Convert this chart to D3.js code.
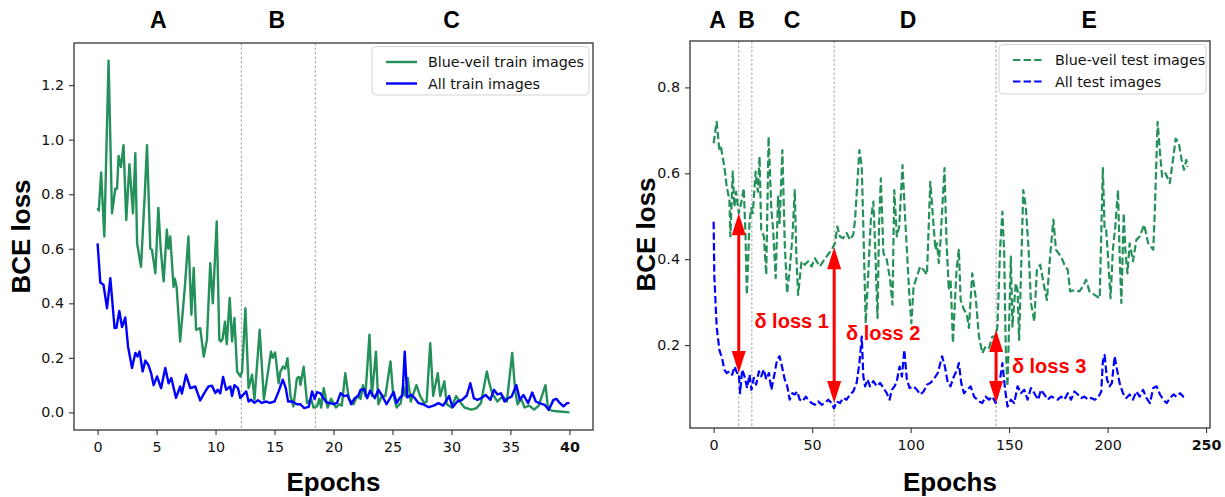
<!DOCTYPE html>
<html>
<head>
<meta charset="utf-8">
<script src="https://cdnjs.cloudflare.com/ajax/libs/d3/7.8.5/d3.min.js"></script>
<style>
body { margin: 0; background: #fff; }
text { font-family: "DejaVu Sans", sans-serif; }
</style>
</head>
<body>
<svg id="chart"></svg>
<script>
const width = 1225;
const height = 497;

// train curves: [epoch, BCE loss]
const trainBlueVeil = [[0,0.75],[0.1,0.74],[0.3,0.88],[0.57,0.645],[0.93,1.29],[1.22,0.73],[1.5,0.82],[1.65,0.82],[1.78,0.94],[1.98,0.9],[2.2,0.98],[2.43,0.705],[2.7,0.91],[3.0,0.73],[3.2,0.95],[3.35,0.62],[3.68,0.534],[4.0,0.8],[4.19,0.98],[4.47,0.6],[4.61,0.596],[4.9,0.51],[5.15,0.75],[5.35,0.6],[5.6,0.48],[5.87,0.67],[6.0,0.6],[6.16,0.645],[6.44,0.46],[6.55,0.49],[6.7,0.46],[7.0,0.26],[7.4,0.46],[7.7,0.645],[7.95,0.358],[8.15,0.53],[8.35,0.303],[8.7,0.309],[9.0,0.205],[9.27,0.266],[9.55,0.547],[9.77,0.4],[10.1,0.7],[10.32,0.266],[10.45,0.26],[10.6,0.27],[10.8,0.333],[10.95,0.25],[11.2,0.42],[11.4,0.26],[11.6,0.346],[11.83,0.15],[12.1,0.132],[12.25,0.15],[12.53,0.382],[12.8,0.089],[13.1,0.138],[13.3,0.047],[13.74,0.303],[14.1,0.047],[14.35,0.12],[14.7,0.223],[14.85,0.2],[15.05,0.22],[15.35,0.107],[15.5,0.15],[15.72,0.168],[15.9,0.16],[16.1,0.199],[16.35,0.06],[16.6,0.022],[16.9,0.126],[17.1,0.13],[17.2,0.1],[17.47,0.168],[17.76,0.034],[18.1,0.05],[18.3,0.018],[18.6,0.022],[18.8,0.05],[18.95,0.018],[19.17,0.089],[19.5,0.018],[19.8,0.05],[20.2,0.018],[20.5,0.03],[20.7,0.025],[21.0,0.144],[21.3,0.05],[21.7,0.03],[22.0,0.06],[22.3,0.05],[22.5,0.1],[22.7,0.06],[23.05,0.285],[23.25,0.06],[23.6,0.223],[23.8,0.03],[24.1,0.06],[24.4,0.06],[24.83,0.187],[25.05,0.07],[25.35,0.018],[25.7,0.034],[25.9,0.1],[26.1,0.06],[26.3,0.126],[26.55,0.04],[27.03,0.1],[27.35,0.06],[27.7,0.034],[27.9,0.04],[28.2,0.254],[28.45,0.06],[28.84,0.144],[29.05,0.06],[29.4,0.114],[29.6,0.03],[30.0,0.018],[30.4,0.06],[30.7,0.04],[31.1,0.018],[31.7,0.01],[32.1,0.015],[32.5,0.034],[33.0,0.15],[33.2,0.11],[33.45,0.07],[33.9,0.04],[34.35,0.06],[34.7,0.04],[35.15,0.218],[35.4,0.08],[35.6,0.03],[35.9,0.05],[36.2,0.018],[36.6,0.025],[37.0,0.01],[37.4,0.025],[37.97,0.1],[38.2,0.01],[38.7,0.005],[40,0.0]];

const trainAll = [[0,0.62],[0.23,0.476],[0.5,0.468],[0.8,0.382],[1.08,0.492],[1.44,0.309],[1.6,0.31],[1.84,0.372],[2.07,0.313],[2.35,0.348],[2.58,0.242],[2.92,0.163],[3.2,0.218],[3.38,0.205],[3.56,0.223],[3.82,0.15],[4.05,0.19],[4.3,0.175],[4.55,0.142],[4.75,0.1],[5.04,0.132],[5.38,0.089],[5.74,0.163],[6.02,0.107],[6.25,0.126],[6.65,0.053],[7.0,0.095],[7.15,0.069],[7.5,0.138],[7.86,0.089],[8.28,0.095],[8.7,0.044],[9.13,0.077],[9.4,0.095],[9.7,0.098],[9.98,0.071],[10.18,0.083],[10.4,0.07],[10.64,0.13],[10.9,0.083],[11.25,0.095],[11.4,0.06],[11.6,0.1],[11.9,0.089],[12.1,0.053],[12.6,0.077],[12.8,0.04],[13.0,0.047],[13.3,0.035],[13.6,0.045],[13.9,0.035],[14.3,0.04],[14.6,0.035],[15.0,0.04],[15.35,0.077],[15.7,0.12],[15.95,0.09],[16.15,0.04],[16.5,0.04],[16.9,0.03],[17.2,0.03],[17.5,0.016],[17.9,0.02],[18.18,0.077],[18.4,0.05],[18.6,0.074],[18.9,0.07],[19.1,0.055],[19.4,0.037],[19.73,0.034],[20.0,0.03],[20.3,0.035],[20.6,0.071],[20.9,0.06],[21.2,0.063],[21.5,0.03],[21.8,0.052],[22.1,0.06],[22.3,0.083],[22.6,0.085],[22.85,0.052],[23.1,0.08],[23.5,0.052],[23.8,0.083],[24.1,0.063],[24.5,0.03],[25.1,0.075],[25.35,0.034],[25.6,0.052],[25.85,0.062],[26.04,0.223],[26.25,0.055],[26.6,0.065],[26.9,0.052],[27.2,0.034],[27.6,0.03],[28.07,0.019],[28.5,0.025],[28.9,0.034],[29.3,0.025],[29.8,0.06],[30.1,0.019],[30.5,0.04],[30.9,0.046],[31.3,0.062],[31.6,0.107],[31.9,0.052],[32.2,0.046],[32.5,0.052],[32.9,0.064],[33.3,0.046],[33.6,0.083],[33.9,0.066],[34.2,0.07],[34.5,0.04],[34.8,0.052],[35.1,0.058],[35.5,0.1],[35.8,0.046],[36.1,0.064],[36.5,0.034],[36.85,0.073],[37.15,0.04],[37.45,0.034],[37.9,0.028],[38.25,0.01],[38.65,0.046],[38.9,0.05],[39.2,0.034],[39.5,0.022],[39.8,0.034],[40,0.034]];

// test curves: [epoch, BCE loss]
const testBlueVeil = [[0,0.67],[1.54,0.72],[2.9,0.654],[3.75,0.66],[5.45,0.615],[6.65,0.569],[8.0,0.538],[8.5,0.453],[9.7,0.604],[10.56,0.522],[11.4,0.557],[12.77,0.507],[13.96,0.53],[15.3,0.565],[16.2,0.453],[16.85,0.317],[18.2,0.484],[19.06,0.519],[19.9,0.507],[21.3,0.604],[22.46,0.557],[23.3,0.639],[24.16,0.468],[25.5,0.453],[26.7,0.364],[27.9,0.685],[29.3,0.515],[30.1,0.476],[31.5,0.356],[32.7,0.546],[33.5,0.484],[34.9,0.654],[36.1,0.437],[37.3,0.321],[38.6,0.375],[40.0,0.453],[41.2,0.561],[42.0,0.406],[42.9,0.317],[44.6,0.395],[46.3,0.387],[48.0,0.395],[49.7,0.383],[51.4,0.402],[53.9,0.383],[55.6,0.395],[57.3,0.406],[59.9,0.422],[61.6,0.437],[62.8,0.476],[64.1,0.453],[65.8,0.449],[67.5,0.461],[69.2,0.445],[70.9,0.457],[71.8,0.492],[74.0,0.654],[75.2,0.615],[76.0,0.476],[77.2,0.251],[78.6,0.375],[79.8,0.492],[81.1,0.534],[82.0,0.43],[83.2,0.263],[84.0,0.484],[84.9,0.588],[86.2,0.414],[87.9,0.399],[89.6,0.352],[90.8,0.294],[91.7,0.561],[93.0,0.453],[94.2,0.476],[95.9,0.619],[97.0,0.515],[98.1,0.422],[99.5,0.305],[100.4,0.251],[101.5,0.336],[103.2,0.36],[104.9,0.383],[106.6,0.375],[108.3,0.364],[110.0,0.58],[111.7,0.476],[112.6,0.422],[113.45,0.437],[114.3,0.391],[115.15,0.441],[117.2,0.612],[118.2,0.445],[119.4,0.328],[120.3,0.352],[121.5,0.205],[123.3,0.375],[124.5,0.422],[125.4,0.305],[127.1,0.282],[128.4,0.274],[129.6,0.24],[131.3,0.367],[133.0,0.313],[134.7,0.22],[136.4,0.181],[138.1,0.197],[139.8,0.193],[141.5,0.22],[143.2,0.22],[144.1,0.243],[145.4,0.422],[146.6,0.511],[147.5,0.414],[148.3,0.193],[149.2,0.104],[150.9,0.406],[151.7,0.243],[152.6,0.298],[153.4,0.344],[154.3,0.328],[155.1,0.212],[156.0,0.36],[157.2,0.561],[158.5,0.522],[159.9,0.422],[161.1,0.298],[162.8,0.255],[164.1,0.375],[165.8,0.387],[167.5,0.344],[169.2,0.305],[170.8,0.406],[172.5,0.492],[173.8,0.422],[176.4,0.406],[178.1,0.387],[179.8,0.375],[181.0,0.325],[183.2,0.328],[185.7,0.325],[187.4,0.336],[189.1,0.352],[190.8,0.325],[193.4,0.317],[196.0,0.309],[197.6,0.612],[198.5,0.468],[199.3,0.468],[200.2,0.406],[201.5,0.309],[202.7,0.422],[203.9,0.476],[205.3,0.561],[206.1,0.414],[207.0,0.298],[208.2,0.507],[209.0,0.422],[210.1,0.367],[211.2,0.437],[212.9,0.395],[214.6,0.445],[216.3,0.453],[218.6,0.48],[220.6,0.437],[223.2,0.422],[224.0,0.515],[225.4,0.72],[226.5,0.654],[227.7,0.592],[229.4,0.6],[231.6,0.577],[233.4,0.639],[234.6,0.681],[236.2,0.67],[237.6,0.631],[238.8,0.608],[240.0,0.631],[240.6,0.615]];

const testAll = [[0,0.487],[0.35,0.36],[1.54,0.243],[2.9,0.189],[4.26,0.17],[5.45,0.143],[6.65,0.135],[8.0,0.139],[9.4,0.131],[10.56,0.15],[11.9,0.135],[12.77,0.135],[13.45,0.088],[14.5,0.143],[15.7,0.127],[17.0,0.1],[18.2,0.131],[19.2,0.096],[20.4,0.124],[21.6,0.108],[23.0,0.139],[24.16,0.127],[25.5,0.143],[26.7,0.12],[28.1,0.135],[29.3,0.096],[31.0,0.135],[32.2,0.166],[33.5,0.174],[34.7,0.15],[36.1,0.12],[37.4,0.104],[38.6,0.073],[40.0,0.088],[41.2,0.085],[42.4,0.092],[43.7,0.073],[45.1,0.069],[46.8,0.08],[48.0,0.073],[49.7,0.065],[51.4,0.061],[53.1,0.069],[54.8,0.061],[56.5,0.065],[58.2,0.073],[59.9,0.065],[61.1,0.053],[62.4,0.069],[64.1,0.065],[65.8,0.077],[67.5,0.073],[69.2,0.085],[70.9,0.092],[72.6,0.112],[74.0,0.158],[75.2,0.22],[76.0,0.127],[76.9,0.104],[78.1,0.12],[79.4,0.104],[81.1,0.116],[82.8,0.104],[84.5,0.112],[86.2,0.1],[87.9,0.088],[89.3,0.073],[90.5,0.096],[91.85,0.104],[93.0,0.116],[94.4,0.15],[95.6,0.127],[96.8,0.189],[98.1,0.12],[99.5,0.1],[101.5,0.104],[103.2,0.096],[104.9,0.085],[106.6,0.092],[108.3,0.108],[110.0,0.112],[111.7,0.12],[113.8,0.135],[116.0,0.174],[117.4,0.15],[118.9,0.112],[120.25,0.104],[121.95,0.127],[123.65,0.143],[124.5,0.158],[125.7,0.112],[127.1,0.088],[128.8,0.096],[130.5,0.104],[132.2,0.08],[134.7,0.069],[136.4,0.065],[138.1,0.08],[139.8,0.073],[141.5,0.08],[143.2,0.065],[144.9,0.104],[146.6,0.158],[148.0,0.096],[149.2,0.057],[150.9,0.073],[152.6,0.065],[154.3,0.104],[156.0,0.088],[157.7,0.096],[159.4,0.073],[161.1,0.1],[162.8,0.088],[164.8,0.073],[166.2,0.096],[167.9,0.085],[169.6,0.073],[171.3,0.08],[173.0,0.077],[174.7,0.073],[176.4,0.08],[178.1,0.073],[179.8,0.088],[181.5,0.073],[183.2,0.092],[184.9,0.085],[186.6,0.077],[188.3,0.08],[190.0,0.073],[191.7,0.077],[193.4,0.073],[195.1,0.077],[196.8,0.092],[197.6,0.162],[198.5,0.177],[199.7,0.12],[201.0,0.104],[202.2,0.112],[203.6,0.174],[204.8,0.143],[206.1,0.112],[207.8,0.088],[209.5,0.077],[211.2,0.085],[212.9,0.073],[214.6,0.092],[216.3,0.08],[218.0,0.096],[219.7,0.077],[221.5,0.065],[223.2,0.1],[224.9,0.104],[226.6,0.085],[228.3,0.073],[230.0,0.065],[231.7,0.077],[233.4,0.085],[235.1,0.08],[236.8,0.088],[238.5,0.08],[240.2,0.08]];

// training phases
const trainPhaseBounds = [12.19, 18.46];
const trainPhaseNames = ['A', 'B', 'C'];
const trainPhaseAt = [5.15, 15.2, 30.0];
const testPhaseBounds = [12.75, 19.4, 61.2, 143.4];
const testPhaseNames = ['A', 'B', 'C', 'D', 'E'];
const testPhaseAt = [2.0, 16.7, 39.8, 98.7, 190.7];

// delta loss arrows on the test panel
const deltaEpochs = [12.75, 61.2, 143.4];
const deltaLow = [0.135, 0.065, 0.065];
const deltaHigh = [0.507, 0.428, 0.235];
const deltaNames = ['δ loss 1', 'δ loss 2', 'δ loss 3'];
const deltaNameAt = [[39.6, 0.24], [86.1, 0.212], [170.3, 0.135]];

const trainXTicks = [0, 5, 10, 15, 20, 25, 30, 35, 40];
const trainYTicks = [0, 0.2, 0.4, 0.6, 0.8, 1.0, 1.2];
const testXTicks = [0, 50, 100, 150, 200, 250];
const testYTicks = [0.2, 0.4, 0.6, 0.8];

const GREEN = '#24905a';
const BLUE = '#0000ff';
const RED = '#ff0000';

const svg = d3.select('#chart').attr('width', width).attr('height', height);

function drawPanel(p) {
  const x = d3.scaleLinear().domain(p.xDomain).range([p.left, p.right]);
  const y = d3.scaleLinear().domain(p.yDomain).range([p.bottom, p.top]);
  const g = svg.append('g');

  // phase separators
  g.selectAll('.phase').data(p.bounds).enter().append('line')
    .attr('x1', d => x(d)).attr('x2', d => x(d))
    .attr('y1', p.top).attr('y2', p.bottom)
    .attr('stroke', '#8c8c8c').attr('stroke-width', 0.8)
    .attr('stroke-dasharray', '2.5,2');

  //lines
  const line = d3.line().x(d => x(d[0])).y(d => y(d[1]));
  p.series.forEach(s => {
    g.append('path').datum(s.data)
      .attr('d', line).attr('fill', 'none')
      .attr('stroke', s.color).attr('stroke-width', p.lineWidth)
      .attr('stroke-linejoin', 'round')
      .attr('stroke-dasharray', p.dash || null);
  });

  // axes
  const xAxis = d3.axisBottom(x).tickValues(p.xTicks).tickSize(5).tickPadding(6.5).tickFormat(d3.format('d'));
  const yAxis = d3.axisLeft(y).tickValues(p.yTicks).tickSize(5).tickPadding(5).tickFormat(d3.format('.1f'));
  const gx = g.append('g').attr('transform', 'translate(0,' + p.bottom + ')').call(xAxis);
  const gy = g.append('g').attr('transform', 'translate(' + p.left + ',0)').call(yAxis);
  [gx, gy].forEach(a => {
    a.select('.domain').remove();
    a.selectAll('line').attr('stroke', '#333').attr('stroke-width', 1.1);
    a.selectAll('text').attr('font-size', 14.3).attr('fill', '#111')
      .attr('font-family', '"DejaVu Sans", sans-serif');
  });
  gx.selectAll('text').filter(d => d === p.xTicks[p.xTicks.length - 1]).attr('font-weight', 'bold');

  g.append('rect')
    .attr('x', p.left).attr('y', p.top)
    .attr('width', p.right - p.left).attr('height', p.bottom - p.top)
    .attr('fill', 'none').attr('stroke', '#333').attr('stroke-width', 1.3);

  // phase names
  g.selectAll('.pname').data(p.phaseNames).enter().append('text')
    .attr('x', (d, i) => x(p.phaseAt[i])).attr('y', 28.3)
    .attr('text-anchor', 'middle')
    .style('font-family', '"Liberation Sans", Arial, sans-serif')
    .attr('font-weight', 'bold').attr('font-size', 23)
    .text(d => d);

  // axis titles
  g.append('text')
    .attr('x', (p.left + p.right) / 2).attr('y', 491)
    .attr('text-anchor', 'middle')
    .style('font-family', '"Liberation Sans", Arial, sans-serif')
    .attr('font-weight', 'bold').attr('font-size', 26)
    .text('Epochs');
  g.append('text')
    .attr('transform', 'translate(' + p.yTitleX + ',' + (p.top + p.bottom) / 2 + ') rotate(-90)')
    .attr('text-anchor', 'middle')
    .style('font-family', '"Liberation Sans", Arial, sans-serif')
    .attr('font-weight', 'bold').attr('font-size', 26)
    .text('BCE loss');

  // legend
  const lg = g.append('g');
  lg.append('rect')
    .attr('x', p.legend.x).attr('y', p.legend.y)
    .attr('width', p.legend.w).attr('height', p.legend.h)
    .attr('rx', 4).attr('fill', '#fff').attr('fill-opacity', 0.8)
    .attr('stroke', '#d4d4d4').attr('stroke-width', 1);
  p.series.forEach((s, i) => {
    const cy = p.legend.y + 15.5 + i * 21.5;
    lg.append('line')
      .attr('x1', p.legend.x + 14).attr('x2', p.legend.x + 45)
      .attr('y1', cy).attr('y2', cy)
      .attr('stroke', s.color).attr('stroke-width', p.lineWidth)
      .attr('stroke-dasharray', p.dash || null);
    lg.append('text')
      .attr('x', p.legend.x + 56).attr('y', cy + 5)
      .attr('font-size', 14.3).attr('fill', '#111')
      .text(s.name);
  });

  return { g, x, y };
}

drawPanel({
  left: 74, right: 593, top: 43, bottom: 430,
  xDomain: [-2, 42], yDomain: [-0.0645, 1.3545],
  xTicks: trainXTicks, yTicks: trainYTicks,
  bounds: trainPhaseBounds, phaseNames: trainPhaseNames, phaseAt: trainPhaseAt,
  lineWidth: 2.4, yTitleX: 30,
  legend: { x: 372, y: 46.5, w: 217, h: 48.5 },
  series: [
    { name: 'Blue-veil train images', data: trainBlueVeil, color: GREEN },
    { name: 'All train images', data: trainAll, color: BLUE }
  ]
});

const right = drawPanel({
  left: 690, right: 1210, top: 41, bottom: 428,
  xDomain: [-12, 252], yDomain: [0.007, 0.908],
  xTicks: testXTicks, yTicks: testYTicks,
  bounds: testPhaseBounds, phaseNames: testPhaseNames, phaseAt: testPhaseAt,
  lineWidth: 2.2, dash: '7.4,3.2', yTitleX: 655,
  legend: { x: 999, y: 44.5, w: 207, h: 49.5 },
  series: [
    { name: 'Blue-veil test images', data: testBlueVeil, color: GREEN },
    { name: 'All test images', data: testAll, color: BLUE }
  ]
});

// delta loss arrows
const headLen = 22, headHalf = 7;
deltaEpochs.forEach((e, i) => {
  const ax = right.x(e);
  const y1 = right.y(deltaHigh[i]);
  const y2 = right.y(deltaLow[i]);
  right.g.append('line')
    .attr('x1', ax).attr('x2', ax)
    .attr('y1', y1 + headLen - 2).attr('y2', y2 - headLen + 2)
    .attr('stroke', RED).attr('stroke-width', 3);
  right.g.append('path')
    .attr('d', 'M' + ax + ',' + y1 + 'L' + (ax - headHalf) + ',' + (y1 + headLen) + 'L' + (ax + headHalf) + ',' + (y1 + headLen) + 'Z')
    .attr('fill', RED);
  right.g.append('path')
    .attr('d', 'M' + ax + ',' + y2 + 'L' + (ax - headHalf) + ',' + (y2 - headLen) + 'L' + (ax + headHalf) + ',' + (y2 - headLen) + 'Z')
    .attr('fill', RED);
  right.g.append('text')
    .attr('x', right.x(deltaNameAt[i][0])).attr('y', right.y(deltaNameAt[i][1]))
    .attr('text-anchor', 'middle')
    .style('font-family', '"Liberation Sans", Arial, sans-serif')
    .attr('font-weight', 'bold').attr('font-size', 20)
    .attr('fill', RED)
    .text(deltaNames[i]);
});
</script>
</body>
</html>
